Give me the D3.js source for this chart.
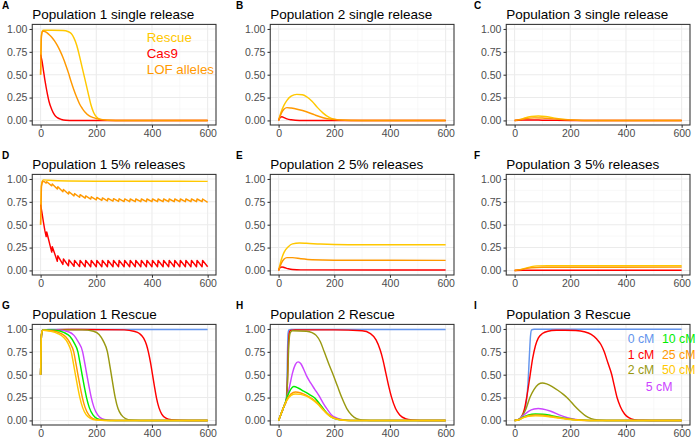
<!DOCTYPE html>
<html><head><meta charset="utf-8">
<script src="https://cdn.jsdelivr.net/npm/d3@7"></script>
<style>body{margin:0;background:#fff}text{font-family:"Liberation Sans",Arial,sans-serif}</style>
</head><body><svg id="c" width="700" height="441"></svg>
<script>
// ---------- data ----------
const xTicks = [0, 200, 400, 600];
const yTicks = [0, 0.25, 0.5, 0.75, 1];
const topLegend = ["Rescue", "Cas9", "LOF alleles"];
const rescueLegend = ["0 cM", "1 cM", "2 cM", "5 cM", "10 cM", "25 cM", "50 cM"];

// Panel A
const A_rescue = [[0,0.5],[3,0.93],[6,0.975],[10,0.985],[40,0.985],[80,0.983],[100,0.97],[110,0.95],[120,0.9],[130,0.82],[140,0.7],[150,0.57],[160,0.44],[170,0.31],[180,0.18],[190,0.09],[200,0.04],[215,0.012],[240,0.002],[300,0],[600,0]];
const A_cas9 = [[0,0.72],[5,0.65],[10,0.55],[15,0.45],[20,0.36],[25,0.28],[30,0.21],[40,0.12],[50,0.06],[60,0.03],[75,0.01],[90,0.003],[120,0],[600,0]];
const A_lof = [[0,0.5],[3,0.92],[7,0.975],[12,0.975],[20,0.965],[30,0.94],[40,0.91],[50,0.87],[60,0.82],[70,0.76],[80,0.69],[90,0.61],[100,0.52],[110,0.42],[120,0.33],[130,0.25],[140,0.18],[150,0.13],[160,0.09],[175,0.05],[190,0.03],[210,0.012],[240,0.003],[300,0],[600,0]];
// Panel B
const B_rescue = [[0,0],[10,0.1],[20,0.17],[30,0.22],[45,0.265],[65,0.285],[85,0.28],[100,0.26],[120,0.21],[140,0.14],[160,0.08],[180,0.035],[200,0.012],[230,0.002],[300,0],[600,0]];
const B_cas9 = [[0,0],[5,0.03],[12,0.04],[20,0.03],[30,0.017],[45,0.007],[60,0.002],[90,0],[600,0]];
const B_lof = [[0,0],[10,0.08],[20,0.125],[30,0.14],[45,0.135],[70,0.12],[100,0.095],[130,0.06],[160,0.03],[190,0.012],[220,0.004],[260,0],[600,0]];
// Panel C
const C_rescue = [[0,0],[20,0.01],[40,0.03],[60,0.042],[85,0.048],[110,0.043],[140,0.028],[170,0.012],[200,0.004],[240,0],[600,0]];
const C_cas9 = [[0,0],[30,0.004],[60,0.005],[100,0.003],[150,0.001],[200,0],[600,0]];
const C_lof = [[0,0],[20,0.008],[40,0.02],[70,0.028],[100,0.027],[130,0.02],[160,0.012],[200,0.004],[250,0],[600,0]];
// Panel D (periodic releases)
const D_releaseTimes = [20,40,60,80,100,120,140,160,180,200,220,240,260,280,300,320,340,360,380,400,420,440,460,480,500,520,540,560,580,600];
const D_rescue = [[0,0.5],[3,0.93],[6,0.975],[10,0.99],[30,0.985],[100,0.978],[200,0.976],[400,0.975],[600,0.974]];
const D_cas9Start = [[0,0.72],[5,0.63],[10,0.53],[15,0.44]];
const D_cas9Troughs = [0.37,0.2,0.1,0.065,0.05,0.045,0.042,0.04,0.04,0.04,0.04,0.04,0.04,0.04,0.04,0.04,0.04,0.04,0.04,0.04,0.04,0.04,0.04,0.04,0.04,0.04,0.04,0.04,0.04,0.04];
const D_cas9Peaks = [0.42,0.26,0.16,0.125,0.115,0.11,0.11,0.11,0.11,0.11,0.11,0.11,0.11,0.11,0.11,0.11,0.11,0.11,0.11,0.11,0.11,0.11,0.11,0.11,0.11,0.11,0.11,0.11,0.11,0.07];
const D_lofStart = [[0,0.5],[3,0.92],[7,0.975],[14,0.97]];
const D_lofTroughs = [0.955,0.925,0.89,0.86,0.835,0.815,0.8,0.79,0.78,0.772,0.765,0.76,0.757,0.755,0.753,0.752,0.752,0.752,0.752,0.752,0.752,0.752,0.752,0.752,0.752,0.752,0.752,0.752,0.752,0.745];
const D_lofPeaks = [0.97,0.945,0.915,0.885,0.86,0.84,0.828,0.815,0.805,0.798,0.792,0.788,0.785,0.783,0.782,0.781,0.781,0.781,0.781,0.781,0.781,0.781,0.781,0.781,0.781,0.781,0.781,0.781,0.781,0.745];
// Panel E
const E_rescue = [[0,0],[10,0.12],[20,0.2],[35,0.26],[50,0.29],[75,0.3],[100,0.297],[150,0.288],[200,0.283],[300,0.28],[600,0.28]];
const E_cas9 = [[0,0],[5,0.03],[12,0.038],[20,0.032],[35,0.018],[50,0.01],[80,0.006],[600,0.005]];
const E_lof = [[0,0],[10,0.08],[20,0.125],[30,0.14],[50,0.14],[80,0.128],[120,0.117],[200,0.112],[600,0.11]];
// Panel F
const F_rescue = [[0,0],[20,0.008],[40,0.025],[60,0.042],[80,0.05],[120,0.052],[600,0.052]];
const F_cas9 = [[0,0],[30,0.002],[600,0.003]];
const F_lof = [[0,0],[20,0.007],[40,0.02],[60,0.03],[100,0.034],[600,0.036]];
// Panel G
const G_0 = [[0,0.5],[3,0.93],[6,0.98],[10,0.99],[30,0.995],[600,0.995]];
const G_1 = [[0,0.5],[3,0.93],[6,0.98],[10,0.99],[100,0.995],[300,0.99],[335,0.975],[355,0.95],[370,0.9],[380,0.83],[387,0.75],[395,0.63],[402,0.5],[409,0.37],[416,0.25],[425,0.14],[435,0.07],[450,0.025],[470,0.007],[500,0.001],[530,0],[600,0]];
const G_2 = [[0,0.5],[3,0.93],[6,0.98],[10,0.99],[150,0.99],[190,0.975],[210,0.94],[225,0.87],[240,0.75],[247,0.63],[254,0.5],[261,0.37],[268,0.25],[278,0.13],[290,0.06],[305,0.02],[325,0.004],[360,0],[600,0]];
const G_5 = [[0,0.5],[3,0.93],[6,0.98],[10,0.99],[60,0.99],[100,0.97],[120,0.93],[135,0.86],[151,0.75],[159,0.62],[166,0.5],[174,0.37],[182,0.25],[192,0.14],[205,0.06],[220,0.02],[240,0.005],[270,0],[600,0]];
const G_10 = [[0,0.5],[3,0.93],[6,0.98],[10,0.99],[50,0.985],[85,0.96],[105,0.92],[120,0.85],[134,0.75],[142,0.62],[149,0.5],[157,0.37],[165,0.25],[175,0.14],[188,0.06],[203,0.02],[223,0.005],[250,0],[600,0]];
const G_25 = [[0,0.5],[3,0.93],[6,0.98],[10,0.985],[40,0.98],[70,0.955],[90,0.915],[105,0.85],[119,0.75],[127,0.62],[134,0.5],[142,0.37],[150,0.25],[160,0.14],[173,0.06],[188,0.02],[208,0.005],[240,0],[600,0]];
const G_50 = [[0,0.5],[3,0.93],[6,0.98],[10,0.985],[35,0.975],[62,0.95],[82,0.91],[97,0.85],[110,0.75],[118,0.62],[125,0.5],[133,0.37],[141,0.25],[151,0.14],[164,0.06],[180,0.02],[200,0.005],[230,0],[600,0]];
// Panel H
const H_0 = [[0,0],[10,0.08],[20,0.16],[27,0.22],[30,0.4],[32,0.75],[34,0.95],[37,0.99],[45,0.995],[600,0.995]];
const H_1 = [[0,0],[10,0.08],[20,0.16],[28,0.22],[32,0.45],[35,0.8],[38,0.95],[42,0.985],[60,0.99],[200,0.99],[300,0.98],[330,0.95],[350,0.88],[365,0.77],[375,0.66],[385,0.52],[395,0.38],[405,0.26],[420,0.13],[435,0.06],[455,0.02],[480,0.004],[510,0],[600,0]];
const H_2 = [[0,0],[10,0.08],[20,0.16],[28,0.22],[33,0.5],[37,0.85],[42,0.96],[50,0.98],[100,0.975],[120,0.96],[135,0.93],[150,0.86],[164,0.75],[180,0.62],[196,0.5],[212,0.37],[227,0.25],[245,0.13],[262,0.06],[280,0.02],[300,0.005],[330,0],[600,0]];
const H_5 = [[0,0],[10,0.08],[20,0.16],[30,0.24],[40,0.38],[50,0.52],[60,0.61],[70,0.64],[80,0.62],[90,0.56],[100,0.49],[115,0.41],[130,0.34],[145,0.27],[160,0.19],[175,0.12],[190,0.06],[210,0.025],[230,0.008],[260,0],[600,0]];
const H_10 = [[0,0],[10,0.08],[20,0.16],[30,0.25],[40,0.32],[55,0.37],[70,0.355],[90,0.32],[110,0.285],[130,0.245],[145,0.19],[160,0.13],[175,0.075],[190,0.035],[210,0.012],[240,0.002],[270,0],[600,0]];
const H_25 = [[0,0],[10,0.08],[20,0.16],[30,0.23],[45,0.29],[60,0.31],[80,0.3],[100,0.275],[120,0.24],[140,0.19],[160,0.12],[180,0.06],[200,0.025],[220,0.008],[250,0],[600,0]];
const H_50 = [[0,0],[10,0.08],[20,0.16],[30,0.22],[45,0.275],[60,0.29],[80,0.285],[100,0.265],[120,0.23],[140,0.18],[160,0.115],[180,0.055],[200,0.022],[220,0.007],[250,0],[600,0]];
// Panel I
const I_0 = [[0,0],[15,0.01],[25,0.04],[35,0.1],[42,0.2],[48,0.4],[53,0.7],[57,0.92],[61,0.99],[70,0.998],[600,0.998]];
const I_1 = [[0,0],[15,0.01],[25,0.04],[35,0.12],[45,0.28],[55,0.48],[65,0.68],[75,0.82],[85,0.9],[100,0.95],[120,0.975],[150,0.985],[180,0.987],[220,0.983],[250,0.97],[275,0.94],[295,0.89],[310,0.83],[322,0.75],[335,0.63],[349,0.5],[358,0.38],[368,0.25],[380,0.15],[395,0.07],[410,0.03],[430,0.008],[460,0.001],[490,0],[600,0]];
const I_2 = [[0,0],[15,0.01],[25,0.04],[40,0.12],[55,0.25],[70,0.34],[85,0.395],[100,0.41],[115,0.4],[135,0.37],[155,0.33],[175,0.285],[195,0.23],[215,0.16],[235,0.1],[255,0.05],[275,0.02],[300,0.005],[330,0],[600,0]];
const I_5 = [[0,0],[15,0.01],[30,0.05],[50,0.1],[70,0.125],[85,0.13],[100,0.125],[130,0.1],[160,0.06],[190,0.03],[220,0.01],[260,0],[600,0]];
const I_10 = [[0,0],[15,0.008],[30,0.035],[50,0.06],[75,0.07],[100,0.068],[130,0.055],[160,0.035],[190,0.018],[230,0.005],[270,0],[600,0]];
const I_25 = [[0,0],[15,0.008],[30,0.03],[50,0.052],[75,0.06],[100,0.058],[130,0.045],[160,0.03],[190,0.015],[230,0.004],[270,0],[600,0]];
const I_50 = [[0,0],[15,0.007],[30,0.028],[50,0.045],[75,0.05],[100,0.048],[130,0.038],[160,0.025],[190,0.012],[230,0.003],[270,0],[600,0]];

// ---------- styling ----------
const C_RESCUE = "#FFC800", C_CAS9 = "#FF0000", C_LOF = "#FF9900";
const CM_COLORS = ["#6495ED", "#FF0000", "#999911", "#CC44FF", "#00EE00", "#FF9900", "#FFC800"];

function sawtooth(start, times, troughs, peaks) {
  const out = start.slice();
  times.forEach((t, i) => { out.push([t, troughs[i]]); if (t < 600) out.push([t + 2, peaks[i]]); });
  return out;
}

const colLeft = [32.25, 270.25, 506.25];
const rowTop = [24.4, 174.4, 324.4];
const PW = 183.75, PH = 100.6;
const labelX = [2, 236, 474];

const panels = [
  {lab:"A", title:"Population 1 single release", c:0, r:0, series:[[A_rescue,C_RESCUE],[A_cas9,C_CAS9],[A_lof,C_LOF]], legend:"top"},
  {lab:"B", title:"Population 2 single release", c:1, r:0, series:[[B_rescue,C_RESCUE],[B_cas9,C_CAS9],[B_lof,C_LOF]]},
  {lab:"C", title:"Population 3 single release", c:2, r:0, series:[[C_rescue,C_RESCUE],[C_cas9,C_CAS9],[C_lof,C_LOF]]},
  {lab:"D", title:"Population 1 5% releases", c:0, r:1, series:[[D_rescue,C_RESCUE],[sawtooth(D_cas9Start,D_releaseTimes,D_cas9Troughs,D_cas9Peaks),C_CAS9,true],[sawtooth(D_lofStart,D_releaseTimes,D_lofTroughs,D_lofPeaks),C_LOF,true]]},
  {lab:"E", title:"Population 2 5% releases", c:1, r:1, series:[[E_rescue,C_RESCUE],[E_cas9,C_CAS9],[E_lof,C_LOF]]},
  {lab:"F", title:"Population 3 5% releases", c:2, r:1, series:[[F_rescue,C_RESCUE],[F_cas9,C_CAS9],[F_lof,C_LOF]]},
  {lab:"G", title:"Population 1 Rescue", c:0, r:2, series:[G_0,G_1,G_2,G_5,G_10,G_25,G_50].map((d,i)=>[d,CM_COLORS[i]])},
  {lab:"H", title:"Population 2 Rescue", c:1, r:2, series:[H_0,H_1,H_2,H_5,H_10,H_25,H_50].map((d,i)=>[d,CM_COLORS[i]])},
  {lab:"I", title:"Population 3 Rescue", c:2, r:2, series:[I_0,I_1,I_2,I_5,I_10,I_25,I_50].map((d,i)=>[d,CM_COLORS[i]]), legend:"cm"}
];

const svg = d3.select("#c");
svg.append("rect").attr("width",700).attr("height",441).attr("fill","#fff");

panels.forEach(p => {
  const L = colLeft[p.c], T = rowTop[p.r];
  const x = d3.scaleLinear().domain([-30, 630]).range([L, L + PW]);
  const y = d3.scaleLinear().domain([-0.05, 1.05]).range([T + PH, T]);
  const g = svg.append("g");
  g.append("rect").attr("x",L).attr("y",T).attr("width",PW).attr("height",PH).attr("fill","#fff");
  // minor grid
  [100,300,500].forEach(v => g.append("line").attr("x1",x(v)).attr("x2",x(v)).attr("y1",T).attr("y2",T+PH).attr("stroke","#F2F2F2").attr("stroke-width",0.55));
  [0.125,0.375,0.625,0.875].forEach(v => g.append("line").attr("x1",L).attr("x2",L+PW).attr("y1",y(v)).attr("y2",y(v)).attr("stroke","#F2F2F2").attr("stroke-width",0.55));
  xTicks.forEach(v => g.append("line").attr("x1",x(v)).attr("x2",x(v)).attr("y1",T).attr("y2",T+PH).attr("stroke","#EBEBEB").attr("stroke-width",1.07));
  yTicks.forEach(v => g.append("line").attr("x1",L).attr("x2",L+PW).attr("y1",y(v)).attr("y2",y(v)).attr("stroke","#EBEBEB").attr("stroke-width",1.07));

  const clipId = "clip" + p.lab;
  g.append("clipPath").attr("id", clipId).append("rect").attr("x",L).attr("y",T).attr("width",PW).attr("height",PH);
  const lg = g.append("g").attr("clip-path", `url(#${clipId})`);
  p.series.forEach(([data, color, linear]) => {
    const line = d3.line().x(d => x(d[0])).y(d => y(d[1])).curve(linear ? d3.curveLinear : d3.curveMonotoneX);
    lg.append("path").attr("d", line(data)).attr("fill","none").attr("stroke",color).attr("stroke-width",1.45).attr("stroke-linejoin","round");
  });

  g.append("rect").attr("x",L).attr("y",T).attr("width",PW).attr("height",PH).attr("fill","none").attr("stroke","#333333").attr("stroke-width",1.07);

  const xa = g.append("g").attr("transform",`translate(0,${T+PH})`)
    .call(d3.axisBottom(x).tickValues(xTicks).tickSize(2.75).tickPadding(2.2).tickFormat(d3.format("d")));
  const ya = g.append("g").attr("transform",`translate(${L},0)`)
    .call(d3.axisLeft(y).tickValues(yTicks).tickSize(2.75).tickPadding(2.2).tickFormat(d3.format(".2f")));
  [xa, ya].forEach(a => {
    a.select(".domain").remove();
    a.selectAll(".tick line").attr("stroke","#333333").attr("stroke-width",1.07);
    a.selectAll(".tick text").attr("fill","#4D4D4D").style("font-size","10.5px").style("font-family","'Liberation Sans',Arial,sans-serif");
  });

  g.append("text").attr("x",L).attr("y",T-5).text(p.title).attr("fill","#000").style("font-size","13.5px");
  g.append("text").attr("x",labelX[p.c]).attr("y",T-15.6).text(p.lab).attr("fill","#000").style("font-size","10px").style("font-weight","bold");

  if (p.legend === "top") {
    const cols = [C_RESCUE, C_CAS9, C_LOF];
    topLegend.forEach((t,i) => g.append("text").attr("x",L+114.5).attr("y",T+17.3+16.2*i).text(t).attr("fill",cols[i]).style("font-size","13.3px"));
  }
  if (p.legend === "cm") {
    const pos = [[121.4,18.6],[121.4,34.6],[121.4,50],[139.5,66.3],[155.7,18.6],[155.7,34.6],[155.7,50]];
    rescueLegend.forEach((t,i) => g.append("text").attr("x",L+pos[i][0]).attr("y",T+pos[i][1]).text(t).attr("fill",CM_COLORS[i]).style("font-size","12.3px"));
  }
});
</script></body></html>
